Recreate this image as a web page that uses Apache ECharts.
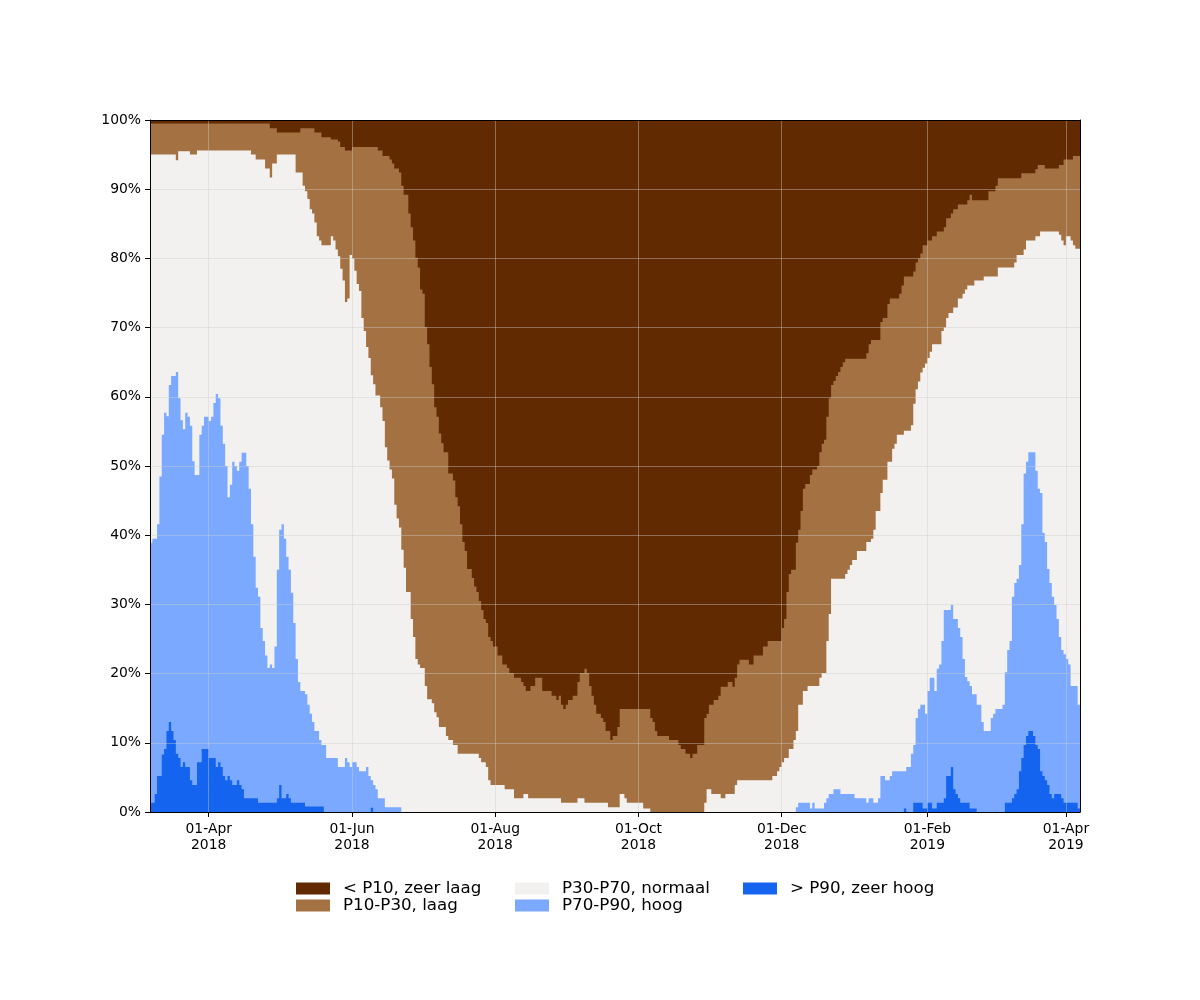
<!DOCTYPE html>
<html><head><meta charset="utf-8">
<script src="https://cdn.jsdelivr.net/npm/echarts@6/dist/echarts.min.js"></script>
<style>html,body{margin:0;padding:0;background:#fff}#c{width:1200px;height:1000px}</style>
</head><body><div id="c"></div>
<script>
// Day 0 = 2018-03-07; x values below are day offsets from that date.
const startDateUTC = Date.UTC(2018, 2, 7);
const lastDay = 396;
const tickDates = ['2018-04-01','2018-06-01','2018-08-01','2018-10-01','2018-12-01','2019-02-01','2019-04-01'];
const monthNames = ['Jan','Feb','Mar','Apr','May','Jun','Jul','Aug','Sep','Oct','Nov','Dec'];
const yGridValues = [10,20,30,40,50,60,70,80,90];

const classNames = ['< P10, zeer laag','P10-P30, laag','P30-P70, normaal','P70-P90, hoog','> P90, zeer hoog'];
const classColors = ['#612a00','#a47142','#f2f1ef','#7ba9ff','#1464ef'];

// Cumulative share of the area (%) at or above each class boundary, [day, %]
const shareAll = [[0,100],[396,100]];
const shareAboveP10 = [[0,99.5],[51,98.8],[54,98.2],[64,98.8],[70,98.2],[73,97.5],[77,97.2],[80,96.9],[81,96.1],[83,95.6],[86,96.1],[97,95.6],[99,94.8],[102,94.3],[103,93.7],[104,93.0],[106,92.4],[107,90.5],[108,89.2],[110,86.5],[111,84.5],[112,82.6],[113,80.1],[114,78.7],[115,75.5],[116,74.9],[117,70.1],[118,67.6],[119,64.3],[120,61.8],[121,58.5],[122,57.1],[123,54.7],[124,53.3],[125,52.0],[127,48.9],[129,47.9],[130,45.5],[131,44.2],[132,41.6],[133,39.0],[134,37.7],[135,35.1],[137,33.8],[138,32.6],[139,31.8],[140,30.5],[141,29.2],[142,27.9],[143,27.3],[144,25.3],[145,24.7],[146,23.9],[148,22.6],[150,21.3],[152,20.8],[153,20.1],[155,19.4],[158,18.8],[159,18.2],[160,17.5],[162,18.2],[164,19.4],[167,17.5],[171,16.8],[173,16.2],[174,16.8],[175,15.5],[176,14.9],[177,15.5],[178,16.2],[180,16.8],[182,18.8],[183,20.1],[185,20.7],[186,20.1],[187,18.2],[188,16.8],[189,15.5],[190,14.2],[192,13.6],[193,13.0],[194,11.7],[196,10.4],[197,11.0],[199,12.3],[200,14.9],[213,13.6],[214,13.0],[215,11.7],[216,11.0],[221,10.4],[225,9.7],[226,9.1],[228,8.4],[230,7.8],[231,8.4],[233,9.7],[236,13.6],[237,14.2],[238,15.5],[240,16.2],[242,16.8],[243,18.1],[246,18.8],[248,18.1],[249,19.4],[250,21.3],[251,22.0],[255,21.3],[257,22.6],[261,23.9],[263,24.7],[269,26.6],[270,27.9],[271,31.8],[272,34.4],[273,35.0],[275,38.9],[276,40.8],[277,43.5],[278,46.7],[279,47.4],[281,48.7],[282,49.5],[284,50.0],[285,52.0],[286,53.2],[287,53.8],[288,57.1],[289,59.8],[290,61.7],[291,62.3],[292,63.0],[293,63.6],[294,64.3],[295,65.0],[296,65.5],[305,66.3],[306,67.6],[307,68.2],[311,70.8],[312,71.4],[314,73.4],[315,74.2],[319,74.9],[320,76.1],[321,77.4],[325,78.1],[326,79.4],[327,80.0],[328,80.7],[329,81.9],[331,82.6],[333,83.2],[335,83.9],[338,84.5],[339,85.8],[341,86.5],[342,87.1],[344,87.8],[348,88.4],[349,89.2],[350,88.4],[357,89.7],[360,90.5],[361,91.6],[371,92.3],[377,92.9],[378,93.5],[381,93.0],[387,93.5],[389,94.3],[393,94.8],[396,94.8]];
const shareAboveP30 = [[0,95.0],[11,94.2],[12,95.5],[17,95.0],[20,95.6],[43,95.0],[45,94.3],[49,93.0],[51,91.7],[52,93.7],[54,95.0],[62,92.4],[65,90.5],[66,89.7],[67,88.6],[68,87.1],[69,86.5],[70,85.2],[71,83.2],[72,82.6],[73,81.9],[77,83.2],[78,82.6],[79,81.3],[80,80.3],[81,78.5],[82,76.8],[83,73.7],[84,74.2],[85,80.5],[86,80.0],[87,78.2],[88,76.3],[89,75.3],[90,71.4],[91,69.5],[92,67.2],[93,65.6],[94,63.1],[95,61.8],[96,60.2],[98,58.5],[99,56.5],[100,52.7],[101,50.8],[102,49.5],[103,48.2],[104,44.4],[105,42.4],[106,41.1],[107,37.9],[108,35.3],[109,31.8],[111,27.9],[112,25.3],[113,22.1],[114,21.3],[115,20.8],[117,18.2],[118,16.3],[120,15.7],[121,14.4],[122,13.7],[123,12.3],[126,11.0],[127,10.4],[129,9.7],[131,8.4],[140,7.8],[141,7.2],[143,6.5],[144,4.6],[145,3.9],[151,3.3],[155,2.0],[159,2.6],[161,2.0],[175,1.35],[182,2.0],[185,1.35],[195,0.7],[200,2.6],[202,2.0],[203,1.35],[210,0.5],[213,0],[236,1.35],[237,3.3],[239,2.6],[243,2.0],[245,2.6],[249,3.9],[250,4.6],[265,5.2],[267,5.9],[268,6.5],[269,7.2],[270,7.8],[272,9.1],[274,10.4],[275,11.7],[276,15.5],[278,17.5],[280,18.2],[285,19.4],[286,20.1],[288,24.7],[289,28.6],[290,33.7],[296,34.4],[297,35.0],[298,35.7],[299,36.4],[301,37.7],[305,39.0],[307,39.5],[308,40.8],[309,43.5],[311,46.1],[312,48.0],[314,50.6],[316,52.5],[317,53.2],[318,54.5],[321,55.1],[324,55.9],[325,59.0],[326,61.1],[327,62.2],[328,63.5],[329,64.2],[330,64.8],[331,65.6],[332,66.5],[333,67.6],[337,69.5],[338,70.0],[339,71.4],[340,72.1],[342,72.9],[344,74.2],[346,74.9],[347,75.5],[348,76.1],[351,76.8],[355,77.4],[361,78.7],[368,79.4],[369,80.5],[372,81.3],[373,82.6],[377,83.2],[379,83.9],[387,83.4],[388,82.6],[389,81.9],[390,83.2],[392,82.6],[393,81.9],[394,81.4],[396,81.4]];
const shareAboveP70 = [[0,38.9],[1,39.5],[3,41.6],[4,48.5],[5,54.5],[6,57.7],[7,57.2],[8,61.7],[9,63.0],[11,63.6],[12,59.8],[13,56.6],[14,55.3],[15,57.7],[16,57.1],[17,55.8],[18,50.7],[19,48.7],[21,54.5],[22,55.8],[23,57.1],[25,56.5],[26,57.1],[27,59.1],[28,60.4],[29,59.8],[30,55.8],[31,53.2],[32,50.0],[33,45.5],[34,47.3],[35,50.6],[36,50.0],[37,49.3],[38,50.6],[39,51.9],[41,50.0],[42,46.7],[43,41.6],[44,36.9],[45,32.4],[46,31.1],[47,26.6],[48,24.7],[49,22.6],[50,20.8],[51,21.3],[52,20.8],[53,23.9],[54,35.0],[55,40.8],[56,41.6],[57,39.5],[58,36.9],[59,35.0],[60,31.7],[61,27.3],[62,22.1],[63,18.8],[64,17.5],[66,17.0],[67,15.5],[68,14.2],[69,13.0],[70,11.7],[72,10.4],[73,9.7],[75,7.8],[80,6.5],[83,7.8],[84,7.2],[85,6.5],[86,7.2],[88,6.5],[89,5.9],[92,6.5],[93,5.2],[94,4.6],[95,3.9],[96,3.3],[97,2.0],[100,0.7],[107,0],[275,0.7],[276,1.35],[281,0.5],[282,1.35],[283,0.5],[287,1.35],[288,2.0],[289,2.6],[291,3.3],[294,2.6],[300,2.0],[305,1.35],[306,2.0],[308,1.35],[310,2.0],[311,5.2],[313,4.6],[315,5.2],[316,5.9],[322,6.5],[324,8.4],[325,9.7],[326,13.6],[327,14.9],[328,15.5],[330,14.2],[331,17.5],[332,19.4],[334,17.5],[335,20.7],[336,21.3],[337,24.7],[338,29.2],[341,29.9],[342,27.9],[344,26.6],[345,25.3],[346,22.1],[347,19.5],[348,18.9],[349,18.2],[350,17.0],[352,15.5],[354,13.0],[355,11.7],[358,13.6],[359,14.2],[360,14.9],[363,15.5],[364,20.2],[365,23.4],[366,24.7],[367,31.1],[368,33.1],[369,33.7],[370,35.7],[371,41.6],[372,48.9],[373,50.6],[374,52.0],[377,49.3],[378,46.7],[379,46.1],[380,40.3],[381,39.0],[382,35.1],[383,33.1],[384,31.1],[385,29.9],[386,27.9],[387,25.3],[388,23.4],[389,22.8],[390,22.1],[391,21.3],[392,18.2],[395,15.5],[396,15.5]];
const shareAboveP90 = [[0,1.35],[2,2.6],[3,5.2],[5,8.3],[6,9.1],[7,11.7],[8,13.0],[9,11.7],[10,10.4],[11,8.4],[12,7.8],[13,6.5],[14,7.2],[15,6.5],[17,4.6],[18,3.9],[20,7.2],[22,9.1],[25,7.8],[28,6.5],[29,7.2],[30,6.5],[31,5.2],[32,4.6],[33,5.2],[34,4.6],[35,3.9],[37,4.6],[38,3.9],[39,3.3],[40,2.0],[46,1.35],[54,2.0],[55,3.9],[56,2.0],[58,2.6],[59,2.0],[60,1.35],[66,0.8],[74,0],[94,0.6],[95,0],[321,0.5],[322,0],[325,1.35],[329,0.5],[331,1.35],[333,0.5],[335,1.35],[338,2.0],[339,5.2],[341,6.5],[342,3.3],[343,2.6],[344,2.0],[345,1.35],[349,0.5],[352,0],[364,1.35],[367,2.0],[368,2.6],[369,3.3],[370,5.9],[371,7.8],[372,9.7],[373,11.0],[374,11.7],[376,11.0],[377,9.7],[378,9.1],[379,5.9],[380,5.2],[381,4.6],[382,3.9],[383,2.6],[384,2.0],[385,2.6],[388,2.0],[389,1.35],[395,0.5],[396,0.5]];

const layers = [shareAll, shareAboveP10, shareAboveP30, shareAboveP70, shareAboveP90];

const DAY = 86400000;
const tickDays = tickDates.map(s => Math.round((Date.parse(s + 'T00:00:00Z') - startDateUTC) / DAY));
const pad = n => (n < 10 ? '0' : '') + n;
const fmtDay = d => { const t = new Date(startDateUTC + d * DAY); return pad(t.getUTCDate()) + '-' + monthNames[t.getUTCMonth()] + '\n' + t.getUTCFullYear(); };

const font = 'DejaVu Sans';
const chart = echarts.init(document.getElementById('c'), null, {renderer: 'canvas'});

const areaSeries = layers.map((arr, i) => ({
  name: classNames[i],
  type: 'line',
  step: 'end',
  color: classColors[i],
  data: arr,
  showSymbol: false,
  symbol: 'none',
  lineStyle: {width: 0, color: classColors[i]},
  itemStyle: {color: classColors[i]},
  areaStyle: {color: classColors[i], opacity: 1},
  z: 2,
  silent: true
}));

const gridLineSeries = {
  name: 'grid',
  type: 'line',
  data: [],
  z: 5,
  silent: true,
  markLine: {
    silent: true,
    symbol: ['none', 'none'],
    label: {show: false},
    animation: false,
    lineStyle: {color: 'rgba(205,205,205,0.42)', width: 1, type: 'solid'},
    data: tickDays.map(t => ({xAxis: t})).concat(yGridValues.map(v => ({yAxis: v})))
  }
};

const legendText = {fontSize: 16.7, fontFamily: font, color: '#000', lineHeight: 16, padding: [0, 0, 0, 8]};
const legendBase = {orient: 'vertical', top: 875, itemWidth: 34, itemHeight: 12, itemGap: 0, icon: 'rect', selectedMode: false, textStyle: legendText};

chart.setOption({
  animation: false,
  backgroundColor: '#ffffff',
  grid: {left: 150, right: 120, top: 120, bottom: 188, containLabel: false},
  legend: [
    Object.assign({}, legendBase, {left: 291, data: [classNames[0], classNames[1]]}),
    Object.assign({}, legendBase, {left: 510, data: [classNames[2], classNames[3]]}),
    Object.assign({}, legendBase, {left: 738, data: [classNames[4]]})
  ],
  xAxis: [{
    type: 'value',
    min: 0,
    max: lastDay,
    z: 10,
    axisLine: {show: true, onZero: false, lineStyle: {color: '#000', width: 1}},
    axisTick: {show: true, length: 5, inside: false, lineStyle: {color: '#000'}, customValues: tickDays},
    axisLabel: {show: true, customValues: tickDays, formatter: fmtDay, color: '#000', fontSize: 13.9, fontFamily: font, lineHeight: 16, margin: 9, align: 'center', showMinLabel: true, showMaxLabel: true},
    splitLine: {show: false}
  }, {
    type: 'value',
    position: 'top',
    min: 0,
    max: lastDay,
    z: 10,
    axisLine: {show: true, onZero: false, lineStyle: {color: '#000', width: 1}},
    axisTick: {show: false},
    axisLabel: {show: false},
    splitLine: {show: false}
  }],
  yAxis: [{
    type: 'value',
    min: 0,
    max: 100,
    interval: 10,
    z: 10,
    axisLine: {show: true, onZero: false, lineStyle: {color: '#000', width: 1}},
    axisTick: {show: true, length: 5, inside: false, lineStyle: {color: '#000'}},
    axisLabel: {formatter: '{value}%', color: '#000', fontSize: 13.9, fontFamily: font, margin: 9},
    splitLine: {show: false}
  }, {
    type: 'value',
    position: 'right',
    min: 0,
    max: 100,
    z: 10,
    axisLine: {show: true, onZero: false, lineStyle: {color: '#000', width: 1}},
    axisTick: {show: false},
    axisLabel: {show: false},
    splitLine: {show: false}
  }],
  series: areaSeries.concat([gridLineSeries])
});
</script>
</body></html>
